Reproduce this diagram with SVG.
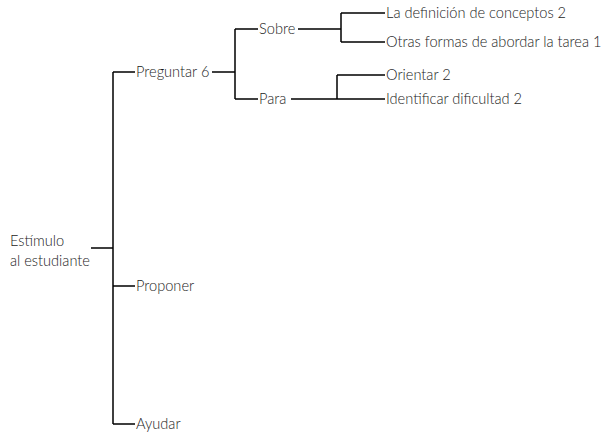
<svg xmlns="http://www.w3.org/2000/svg" width="609" height="432" viewBox="0 0 609 432">
<style>
text{font-family:"Lato","Liberation Sans",sans-serif;font-weight:300;font-size:14.6px;fill:#1a1a1a}
.c{stroke:#000;stroke-width:1.5;fill:none}
</style>
<rect width="609" height="432" fill="#fff"/>
<g id="connectors">
<path class="c" d="M91,248H113M113,72V424M113,72H135M113,286H135M113,424H135"/>
<path class="c" d="M212,72H235M235,29V99M235,29H258M235,99H258"/>
<path class="c" d="M298,29H341M341,13V42M341,13H385M341,42H385"/>
<path class="c" d="M291,99H337M337,75V99M337,75H385M337,99H385"/>
</g>
<g id="root"><text x="10" y="246">Estímulo</text><text x="10" y="266">al estudiante</text></g>
<g id="preguntar"><text x="136" y="77">Preguntar 6</text></g>
<g id="proponer"><text x="136" y="291">Proponer</text></g>
<g id="ayudar"><text x="136" y="429">Ayudar</text></g>
<g id="sobre"><text x="259" y="34">Sobre</text></g>
<g id="para"><text x="259" y="104">Para</text></g>
<g id="definicion"><text x="386" y="18">La definición de conceptos 2</text></g>
<g id="otras"><text x="386" y="47">Otras formas de abordar la tarea 1</text></g>
<g id="orientar"><text x="386" y="80">Orientar 2</text></g>
<g id="identificar"><text x="386" y="104">Identificar dificultad 2</text></g>
</svg>
